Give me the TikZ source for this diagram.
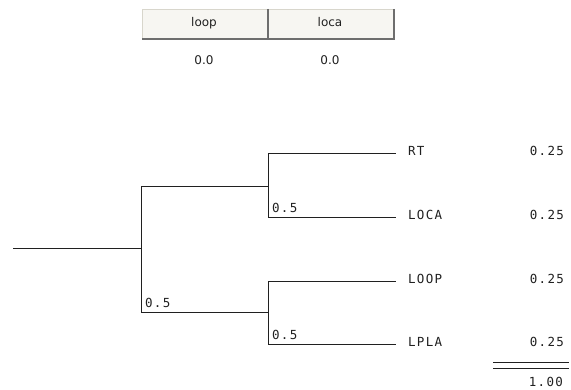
\documentclass[tikz,border=0pt]{standalone}
\usepackage{fontspec}
\newfontfamily\monof[LetterSpace=10]{DejaVu Sans Mono}
\newfontfamily\uif{DejaVu Sans}
\definecolor{btnfill}{HTML}{F7F6F2}
\definecolor{btnlight}{HTML}{D8D6CC}
\definecolor{btndark}{HTML}{6E6E6E}
\definecolor{ink}{HTML}{202020}
\begin{document}
\begin{tikzpicture}[x=1pt,y=-1pt,
  branch/.style={draw=ink, line width=1pt},
  lab/.style={font=\monof\fontsize{12.5}{14}\selectfont, text=ink, inner sep=0pt},
  btnbox/.style={draw=btnlight, fill=btnfill, line width=0.8pt, minimum width=125pt, minimum height=29pt, inner sep=0pt, anchor=north west},
  btntext/.style={font=\uif\fontsize{12}{14}\selectfont, text=ink, inner sep=0pt},
  shade/.style={draw=btndark, line width=2pt}]
\useasboundingbox (0,0) rectangle (571,390);
% buttons
\node[btnbox] (b1) at (142,9) {};
\node[btnbox] (b2) at (268,9) {};
\draw[shade] (b1.north east) -- (b1.south east) -- (b1.south west);
\draw[shade] (b2.north east) -- (b2.south east) -- (b2.south west);
\node[btntext, anchor=base] (t1) at (204,27) {loop};
\node[btntext, anchor=base] (t2) at (330,27) {loca};
\node[btntext, anchor=base] (v1) at (204,65) {0.0};
\node[btntext, anchor=base] (v2) at (330,65) {0.0};
% tree coordinates
\coordinate (root) at (13,249);
\coordinate (n0) at (141,249);
\coordinate (n0t) at (141,187);
\coordinate (n0b) at (141,313);
\coordinate (n1) at (268,187);
\coordinate (n2) at (268,313);
\coordinate (n1t) at (268,154);
\coordinate (n1b) at (268,218);
\coordinate (n2t) at (268,282);
\coordinate (n2b) at (268,345);
\coordinate (e1) at (396,154);
\coordinate (e2) at (396,218);
\coordinate (e3) at (396,282);
\coordinate (e4) at (396,345);
% tree lines
\draw[branch] (root) -- (n0);
\draw[branch] (n0t) -- (n0b);
\draw[branch] (n0t) -- (n1);
\draw[branch] (n0b) -- (n2);
\draw[branch] (n1t) -- (n1b);
\draw[branch] (n2t) -- (n2b);
\draw[branch] (n1t) -- (e1);
\draw[branch] (n1b) -- (e2);
\draw[branch] (n2t) -- (e3);
\draw[branch] (n2b) -- (e4);
% probabilities
\node[lab, anchor=base west] (p0) at (145,308) {0.5};
\node[lab, anchor=base west] (p1) at (272,212.5) {0.5};
\node[lab, anchor=base west] (p2) at (272,340) {0.5};
% leaves
\node[lab, anchor=base west] (l1) at (408,156) {RT};
\node[lab, anchor=base west] (l2) at (408,220) {LOCA};
\node[lab, anchor=base west] (l3) at (408,284) {LOOP};
\node[lab, anchor=base west] (l4) at (408,347) {LPLA};
\node[lab, anchor=base east] (r1) at (564,156) {0.25};
\node[lab, anchor=base east] (r2) at (564,220) {0.25};
\node[lab, anchor=base east] (r3) at (564,284) {0.25};
\node[lab, anchor=base east] (r4) at (564,347) {0.25};
% total
\coordinate (s1) at (493,362.5);
\coordinate (s2) at (569,362.5);
\coordinate (s3) at (493,369);
\coordinate (s4) at (569,369);
\draw[branch] (s1) -- (s2);
\draw[branch] (s3) -- (s4);
\node[lab, anchor=base east] (tot) at (563,387) {1.00};
\end{tikzpicture}
\end{document}
